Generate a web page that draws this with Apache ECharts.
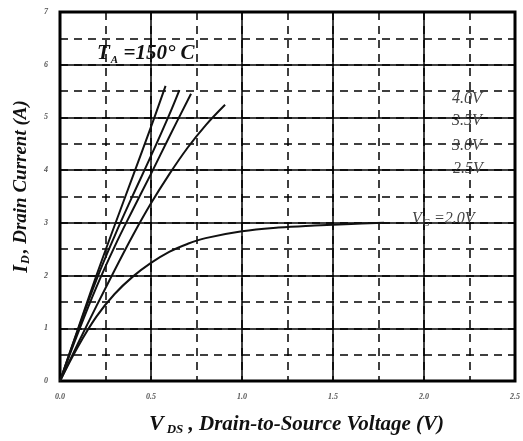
<!DOCTYPE html>
<html>
<head>
<meta charset="utf-8">
<script src="https://cdn.jsdelivr.net/npm/echarts@6/dist/echarts.min.js"></script>
<style>
html,body{margin:0;padding:0;background:#fff;}
#c{width:523px;height:441px;}
</style>
</head>
<body>
<div id="c"></div>
<script>
// ---- data ----
const xTicks = ['0.0','0.5','1.0','1.5','2.0','2.5'];
const yTicks = ['0','1','2','3','4','5','6','7'];

const vds_40 = [0, 0.1, 0.2, 0.3, 0.4, 0.5, 0.58];
const id_40  = [0, 1.0, 2.0, 2.95, 3.88, 4.82, 5.6];

const vds_35 = [0, 0.1, 0.2, 0.3, 0.4, 0.5, 0.6, 0.656];
const id_35  = [0, 0.98, 1.92, 2.75, 3.52, 4.27, 5.05, 5.52];

const vds_30 = [0, 0.1, 0.2, 0.3, 0.4, 0.5, 0.6, 0.72];
const id_30  = [0, 0.92, 1.78, 2.55, 3.25, 3.93, 4.63, 5.45];

const vds_25 = [0, 0.1, 0.2, 0.3, 0.4, 0.5, 0.6, 0.7, 0.8, 0.907];
const id_25  = [0, 0.72, 1.42, 2.1, 2.76, 3.37, 3.92, 4.42, 4.85, 5.24];

const vds_20 = [0, 0.1, 0.2, 0.3, 0.4, 0.5, 0.6, 0.7, 0.8, 1.0, 1.2, 1.4, 1.6, 1.78];
const id_20  = [0, 0.66, 1.22, 1.65, 1.98, 2.24, 2.45, 2.6, 2.71, 2.84, 2.91, 2.95, 2.98, 3.0];

const seriesNames = ['4.0V', '3.5V', '3.0V', '2.5V', 'VG=2.0V'];
const seriesX = [vds_40, vds_35, vds_30, vds_25, vds_20];
const seriesY = [id_40, id_35, id_30, id_25, id_20];

// ---- chart ----
const serif = '"Liberation Serif", "DejaVu Serif", serif';
const chart = echarts.init(document.getElementById('c'));

const series = seriesNames.map((n, k) => ({
  name: n,
  type: 'line',
  xAxisIndex: 0,
  yAxisIndex: 0,
  smooth: 0.4,
  showSymbol: false,
  symbol: 'none',
  lineStyle: { color: '#111', width: 2 },
  data: seriesX[k].map((x, i) => [x, seriesY[k][i]]),
  z: 5
}));

const xAxisBase = {
  type: 'value', min: 0, max: 2.5,
  axisLine: { show: false }, axisTick: { show: false }
};
const yAxisBase = {
  type: 'value', min: 0, max: 7,
  axisLine: { show: false }, axisTick: { show: false }
};

const labelTxt = (text, x, y) => ({
  type: 'text', x: x, y: y, z: 10,
  style: { text: text, font: 'italic 16px ' + serif, fill: '#444', textVerticalAlign: 'middle' }
});

chart.setOption({
  animation: false,
  backgroundColor: '#fff',
  grid: {
    left: 60, right: 8, top: 12, bottom: 59,
    show: true, borderColor: '#000', borderWidth: 3, backgroundColor: 'transparent'
  },
  xAxis: [
    Object.assign({}, xAxisBase, {
      interval: 0.5,
      axisLabel: {
        margin: 12, fontSize: 8, fontStyle: 'italic', fontWeight: 'bold',
        fontFamily: serif, color: '#555',
        formatter: v => xTicks[Math.round(v / 0.5)]
      },
      splitLine: { show: true, lineStyle: { color: '#000', width: 1.5, type: 'solid' } },
      name: '{v|V}{s|DS} , Drain-to-Source Voltage (V)',
      nameLocation: 'middle', nameGap: 32,
      nameTextStyle: {
        fontFamily: serif, fontStyle: 'italic', fontWeight: 'bold', fontSize: 21, color: '#111',
        padding: [0, 0, 0, 18],
        rich: {
          v: { fontFamily: serif, fontStyle: 'italic', fontWeight: 'bold', fontSize: 22, color: '#111' },
          s: { fontFamily: serif, fontStyle: 'italic', fontWeight: 'bold', fontSize: 13, color: '#111', verticalAlign: 'bottom', padding: [10, 0, 0, 3] }
        }
      }
    }),
    Object.assign({}, xAxisBase, {
      interval: 0.25,
      axisLabel: { show: false },
      splitLine: { show: true, lineStyle: { color: '#000', width: 1.5, type: [8, 6] } }
    })
  ],
  yAxis: [
    Object.assign({}, yAxisBase, {
      interval: 1,
      axisLabel: {
        margin: 12, fontSize: 8, fontStyle: 'italic', fontWeight: 'bold',
        fontFamily: serif, color: '#555',
        formatter: v => yTicks[Math.round(v)]
      },
      splitLine: { show: true, lineStyle: { color: '#000', width: 1.5, type: 'solid' } },
      name: '{v|I}{s|D}, Drain Current (A)',
      nameLocation: 'middle', nameGap: 28, nameRotate: 90,
      nameTextStyle: {
        fontFamily: serif, fontStyle: 'italic', fontWeight: 'bold', fontSize: 19, color: '#111',
        padding: [0, 0, 0, 20],
        rich: {
          v: { fontFamily: serif, fontStyle: 'italic', fontWeight: 'bold', fontSize: 20, color: '#111' },
          s: { fontFamily: serif, fontStyle: 'italic', fontWeight: 'bold', fontSize: 12, color: '#111', verticalAlign: 'bottom', padding: [9, 2, 0, 1] }
        }
      }
    }),
    Object.assign({}, yAxisBase, {
      interval: 0.5,
      axisLabel: { show: false },
      splitLine: { show: true, lineStyle: { color: '#000', width: 1.5, type: [8, 6] } }
    })
  ],
  series: series,
  graphic: [
    { type: 'text', x: 97, y: 54, z: 10,
      style: { text: '{t|T}{s|A}{t| =150° C}', fill: '#111', textVerticalAlign: 'middle',
        rich: {
          t: { fontFamily: serif, fontStyle: 'italic', fontWeight: 'bold', fontSize: 21, fill: '#111' },
          s: { fontFamily: serif, fontStyle: 'italic', fontWeight: 'bold', fontSize: 11, fill: '#111', verticalAlign: 'bottom', padding: [12, 0, 0, 1] }
        } } },
    labelTxt('4.0V', 452, 99),
    labelTxt('3.5V', 452, 121),
    labelTxt('3.0V', 452, 146),
    labelTxt('2.5V', 453, 169),
    { type: 'text', x: 412, y: 219, z: 10,
      style: { text: '{v|V}{s|G}{v| =2.0V}', fill: '#444', textVerticalAlign: 'middle',
        rich: {
          v: { fontFamily: serif, fontStyle: 'italic', fontSize: 16, fill: '#444' },
          s: { fontFamily: serif, fontStyle: 'italic', fontSize: 10, fill: '#444', verticalAlign: 'bottom', padding: [8, 0, 0, 1] }
        } } }
  ]
});
</script>
</body>
</html>
